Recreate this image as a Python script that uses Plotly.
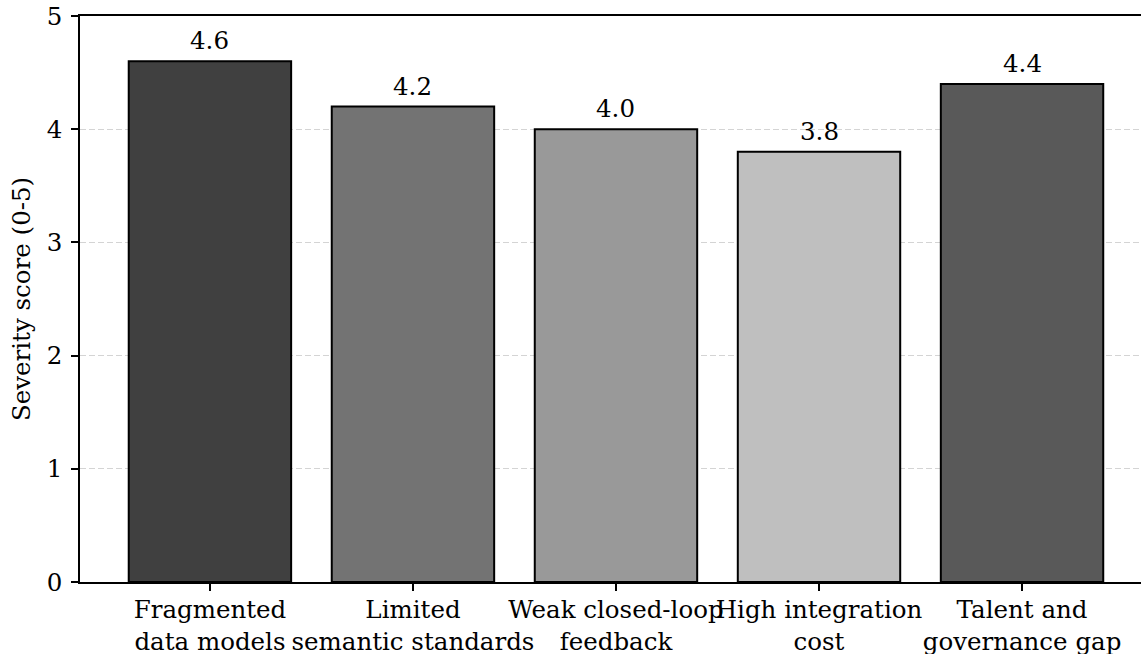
import plotly.graph_objects as go

categories = ["Fragmented<br>data models", "Limited<br>semantic standards", "Weak closed-loop<br>feedback",
              "High integration<br>cost", "Talent and<br>governance gap"]
values = [4.6, 4.2, 4.0, 3.8, 4.4]
colors = ["#404040", "#737373", "#999999", "#bfbfbf", "#595959"]
y_ticks = [0, 1, 2, 3, 4, 5]

xs = list(range(len(categories)))
FONT = "DejaVu Serif"
FS = 24.5

fig = go.Figure()
fig.add_trace(go.Bar(
    x=xs, y=values, width=0.8,
    marker=dict(color=colors, line=dict(color="black", width=2)),
    hoverinfo="skip",
))
for x, v in zip(xs, values):
    fig.add_annotation(x=x, y=v, text=f"{v:.1f}", showarrow=False,
                       yanchor="bottom", yshift=4,
                       font=dict(family=FONT, size=FS, color="black"))

fig.update_layout(
    width=1141, height=654,
    margin=dict(l=80, r=0, t=16, b=72),
    plot_bgcolor="white", paper_bgcolor="white",
    showlegend=False,
    font=dict(family=FONT, size=FS, color="black"),
    xaxis=dict(
        range=[-0.64, 4.586], tickvals=xs, ticktext=categories, tickangle=0,
        automargin=False, ticklabelstandoff=-2,
        showline=True, linecolor="black", linewidth=1.5, mirror=True,
        ticks="outside", ticklen=7, tickwidth=1.5, tickcolor="black",
        showgrid=False, zeroline=False,
        tickfont=dict(family=FONT, size=FS, color="black"),
    ),
    yaxis=dict(
        range=[0, 5], tickvals=y_ticks, automargin=False,
        layer="above traces",
        showline=True, linecolor="black", linewidth=1.5,
        ticks="outside", ticklen=7, tickwidth=1.5, tickcolor="black",
        ticklabelstandoff=4,
        showgrid=True, gridcolor="rgba(176,176,176,0.55)", gridwidth=1.2, griddash="6px,3px",
        zeroline=False,
        title=dict(text="Severity score (0-5)", font=dict(family=FONT, size=FS, color="black"), standoff=9),
        tickfont=dict(family=FONT, size=FS, color="black"),
    ),
    bargap=0.2,
)

fig.write_html(
    "out.html",
    config={"displayModeBar": False},
    post_script="document.body.style.margin='0';document.body.style.overflow='hidden';",
)
